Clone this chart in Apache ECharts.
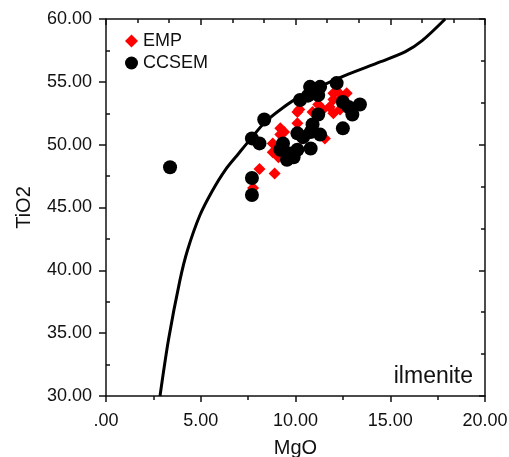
<!DOCTYPE html>
<html>
<head>
<meta charset="utf-8">
<script src="https://cdn.jsdelivr.net/npm/echarts@6/dist/echarts.min.js"></script>
<style>
html,body{margin:0;padding:0;background:#fff;overflow:hidden;}
#main{width:509px;height:457px;}
</style>
</head>
<body>
<div id="main"></div>
<script>
// EMP (red diamonds)
var empMgO  = [8.1, 8.9, 7.76, 10.1, 10.1, 9.4, 9.2, 8.8, 8.8, 9.1, 11.2, 11.45, 10.9, 12.0, 12.3, 12.7, 12.0, 11.8, 12.35, 12.0, 11.55, 10.3, 9.2, 10.2];
var empTiO2 = [48.07, 47.7, 46.55, 52.6, 51.7, 51.0, 50.8, 50.1, 49.4, 49.0, 53.2, 52.8, 52.6, 54.1, 54.1, 54.1, 53.6, 53.0, 52.8, 52.5, 50.5, 50.5, 51.3, 52.8];

// CCSEM (black circles)
var ccsemMgO  = [3.38, 7.7, 8.1, 8.35, 10.24, 10.77, 11.3, 10.66, 11.2, 12.17, 12.5, 12.8, 13.4, 13.0, 12.5, 11.2, 10.9, 10.8, 11.3, 10.1, 10.4, 9.34, 9.2, 9.7, 10.1, 10.8, 9.55, 9.9, 7.7, 7.7];
var ccsemTiO2 = [48.2, 50.5, 50.1, 52.0, 53.56, 54.6, 54.6, 53.9, 53.95, 54.9, 53.4, 53.0, 53.2, 52.4, 51.3, 52.4, 51.6, 51.0, 50.8, 50.9, 50.6, 50.1, 49.6, 49.3, 49.6, 49.7, 48.8, 49.0, 47.35, 46.0];

// ilmenite reference curve
var curveMgO  = [2.85, 3.3, 3.9, 4.3, 4.96, 5.6, 6.3, 7.0, 7.6, 8.4, 9.3, 10.2, 11.4, 12.6, 14.5, 15.8, 16.7, 17.9];
var curveTiO2 = [30, 34.5, 39.2, 41.6, 44.4, 46.3, 48.0, 49.3, 50.4, 51.8, 52.9, 53.8, 54.7, 55.5, 56.6, 57.4, 58.3, 60];

function pairs(xs, ys){
  var out = [];
  for (var i = 0; i < xs.length; i++) out.push([xs[i], ys[i]]);
  return out;
}
function fmt(v){
  var s = v.toFixed(2);
  return s === '0.00' ? '.00' : s;
}

var font = 'Liberation Sans, Arial, Helvetica, sans-serif';
var black = '#111';
var myChart = echarts.init(document.getElementById('main'), null, {width: 509, height: 457});

var option = {
  animation: false,
  grid: {left: 106, right: 24, top: 19, bottom: 61, containLabel: false, outerBoundsMode: 'none'},
  legend: {
    orient: 'vertical',
    left: 120,
    top: 27,
    itemWidth: 13,
    itemHeight: 13,
    itemGap: 4,
    textStyle: {fontFamily: font, fontSize: 18, color: black},
    data: [
      {name: 'EMP', icon: 'diamond', itemStyle: {color: '#ff0000'}},
      {name: 'CCSEM', icon: 'circle', itemStyle: {color: '#000'}}
    ]
  },
  xAxis: [
    {
      type: 'value', min: 0, max: 20, interval: 5, position: 'bottom',
      name: 'MgO', nameLocation: 'middle', nameGap: 42,
      nameTextStyle: {fontFamily: font, fontSize: 20, color: black},
      axisLine: {onZero: false, lineStyle: {color: black, width: 1.5}},
      axisTick: {inside: false, length: 6, lineStyle: {color: black, width: 1.5}},
      minorTick: {show: true, splitNumber: 2, length: 4, lineStyle: {color: black, width: 1.5}},
      axisLabel: {formatter: fmt, margin: 16, fontFamily: font, fontSize: 18, color: black},
      splitLine: {show: false}
    },
    {
      type: 'value', min: 0, max: 20, interval: 5, position: 'top',
      axisLine: {onZero: false, lineStyle: {color: black, width: 1.5}},
      axisTick: {inside: true, length: 6, lineStyle: {color: black, width: 1.5}},
      minorTick: {show: true, splitNumber: 3, length: 4, lineStyle: {color: black, width: 1.5}},
      axisLabel: {show: false},
      splitLine: {show: false}
    }
  ],
  yAxis: [
    {
      type: 'value', min: 30, max: 60, interval: 5, position: 'left',
      name: 'TiO2', nameLocation: 'middle', nameGap: 72, nameRotate: 90,
      nameTextStyle: {fontFamily: font, fontSize: 20, color: black},
      axisLine: {onZero: false, lineStyle: {color: black, width: 1.5}},
      axisTick: {inside: false, length: 7, lineStyle: {color: black, width: 1.5}},
      axisLabel: {formatter: fmt, margin: 14, fontFamily: font, fontSize: 18, color: black},
      splitLine: {show: false}
    },
    {
      type: 'value', min: 30, max: 60, interval: 5, position: 'left',
      axisLine: {show: false},
      axisTick: {show: false, inside: true},
      minorTick: {show: true, splitNumber: 2, length: 4, lineStyle: {color: black, width: 1.5}},
      axisLabel: {show: false},
      splitLine: {show: false}
    },
    {
      type: 'value', min: 30, max: 60, interval: 10, position: 'right',
      axisLine: {onZero: false, lineStyle: {color: black, width: 1.5}},
      axisTick: {inside: true, length: 6, lineStyle: {color: black, width: 1.5}},
      minorTick: {show: true, splitNumber: 3, length: 4, lineStyle: {color: black, width: 1.5}},
      axisLabel: {show: false},
      splitLine: {show: false}
    }
  ],
  graphic: [
    {
      type: 'text', right: 36, top: 365,
      style: {text: 'ilmenite', fontFamily: font, fontSize: 23, fill: black}
    }
  ],
  series: [
    {
      name: 'curve', type: 'line', xAxisIndex: 0, yAxisIndex: 0,
      data: pairs(curveMgO, curveTiO2), smooth: 0.3, showSymbol: false,
      lineStyle: {color: '#000', width: 3}, z: 1
    },
    {
      name: 'EMP', type: 'scatter', xAxisIndex: 0, yAxisIndex: 0,
      data: pairs(empMgO, empTiO2), symbol: 'diamond', symbolSize: 12,
      itemStyle: {color: '#ff0000', opacity: 1}, z: 2
    },
    {
      name: 'CCSEM', type: 'scatter', xAxisIndex: 0, yAxisIndex: 0,
      data: pairs(ccsemMgO, ccsemTiO2), symbol: 'circle', symbolSize: 14,
      itemStyle: {color: '#000', opacity: 1}, z: 3
    }
  ]
};
myChart.setOption(option);
</script>
</body>
</html>
